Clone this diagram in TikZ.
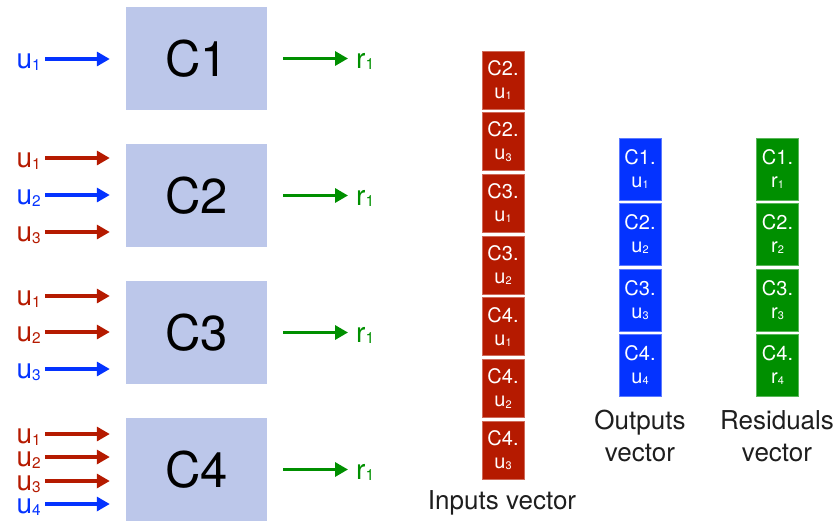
\documentclass[tikz,border=0pt]{standalone}
\usepackage{fontspec}
\setmainfont{TeX Gyre Heros}
\usepackage{graphicx}
\usetikzlibrary{arrows.meta}

\definecolor{boxfill}{HTML}{BCC7EA}
\definecolor{inblue}{HTML}{0433FF}
\definecolor{inred}{HTML}{B51A00}
\definecolor{resgreen}{HTML}{008F00}
\definecolor{captext}{HTML}{1E1E1E}

% letter with a small, slightly lowered index
\newcommand\ix[2]{#1\raisebox{-0.06em}{\scalebox{0.55}{#2}}}

\tikzset{
  ctrl/.style={fill=boxfill, minimum width=141pt, minimum height=103pt,
    inner sep=0pt, text=black, font=\fontsize{49}{60}\selectfont},
  inlab/.style={anchor=base east, inner sep=0pt, text height=15pt, text depth=1pt,
    font=\fontsize{28}{30}\selectfont},
  outlab/.style={anchor=base west, inner sep=0pt, text=resgreen,
    text height=15pt, text depth=1pt, font=\fontsize{28}{30}\selectfont},
  wire/.style={line width=3.2pt, -{Triangle[length=13pt,width=14pt]}},
  inwire/.style={wire, shorten >=16pt},
  outwire/.style={wire, resgreen, shorten <=16pt},
  cell/.style={inner sep=0pt, minimum width=42pt, text=white, align=center,
    line width=0.8pt, font=\fontsize{20}{23}\selectfont},
  incell/.style={cell, fill=inred, draw=inred!65!white, minimum height=58pt},
  outcell/.style={cell, fill=inblue, draw=inblue!65!white, minimum height=62pt},
  rescell/.style={cell, fill=resgreen, draw=resgreen!65!white, minimum height=62pt},
  caption/.style={inner sep=0pt, text=captext, align=center,
    font=\fontsize{26}{32}\selectfont}
}

\begin{document}
\begin{tikzpicture}[x=1pt, y=-1pt]
\useasboundingbox (0,0) rectangle (838,520);

% controller blocks
\node[ctrl] (C1) at (196.5, 58.5) {C1};
\node[ctrl] (C2) at (196.5,195.5) {C2};
\node[ctrl] (C3) at (196.5,332.5) {C3};
\node[ctrl] (C4) at (196.5,469.5) {C4};

% input start points
\coordinate (i11) at (45, 59);
\coordinate (i21) at (45,158);
\coordinate (i22) at (45,195);
\coordinate (i23) at (45,232);
\coordinate (i31) at (45,296);
\coordinate (i32) at (45,332);
\coordinate (i33) at (45,369);
\coordinate (i41) at (45,434);
\coordinate (i42) at (45,457);
\coordinate (i43) at (45,481);
\coordinate (i44) at (45,504);

% input labels
\node[inlab, text=inblue] (l11) at (41, 68.5) {\ix{u}{1}};
\node[inlab, text=inred]  (l21) at (41,167.5) {\ix{u}{1}};
\node[inlab, text=inblue] (l22) at (41,204.5) {\ix{u}{2}};
\node[inlab, text=inred]  (l23) at (41,241.5) {\ix{u}{3}};
\node[inlab, text=inred]  (l31) at (41,305.5) {\ix{u}{1}};
\node[inlab, text=inred]  (l32) at (41,341.5) {\ix{u}{2}};
\node[inlab, text=inblue] (l33) at (41,378.5) {\ix{u}{3}};
\node[inlab, text=inred]  (l41) at (41,443.5) {\ix{u}{1}};
\node[inlab, text=inred]  (l42) at (41,466.5) {\ix{u}{2}};
\node[inlab, text=inred]  (l43) at (41,490.5) {\ix{u}{3}};
\node[inlab, text=inblue] (l44) at (41,513.5) {\ix{u}{4}};

% input arrows
\draw[inwire, inblue] (i11) -- (i11 -| C1.west);
\draw[inwire, inred]  (i21) -- (i21 -| C2.west);
\draw[inwire, inblue] (i22) -- (i22 -| C2.west);
\draw[inwire, inred]  (i23) -- (i23 -| C2.west);
\draw[inwire, inred]  (i31) -- (i31 -| C3.west);
\draw[inwire, inred]  (i32) -- (i32 -| C3.west);
\draw[inwire, inblue] (i33) -- (i33 -| C3.west);
\draw[inwire, inred]  (i41) -- (i41 -| C4.west);
\draw[inwire, inred]  (i42) -- (i42 -| C4.west);
\draw[inwire, inred]  (i43) -- (i43 -| C4.west);
\draw[inwire, inblue] (i44) -- (i44 -| C4.west);

% residual outputs
\coordinate (r1) at (348, 58.5);
\coordinate (r2) at (348,195.5);
\coordinate (r3) at (348,332.5);
\coordinate (r4) at (348,469.5);
\draw[outwire] (C1.east) -- (r1);
\draw[outwire] (C2.east) -- (r2);
\draw[outwire] (C3.east) -- (r3);
\draw[outwire] (C4.east) -- (r4);
\node[outlab] (rl1) at (356, 68) {\ix{r}{1}};
\node[outlab] (rl2) at (356,205) {\ix{r}{1}};
\node[outlab] (rl3) at (356,342) {\ix{r}{1}};
\node[outlab] (rl4) at (356,479) {\ix{r}{1}};

% inputs vector
\node[incell] (v1) at (503, 80.0) {C2.\\\ix{u}{1}};
\node[incell] (v2) at (503,141.7) {C2.\\\ix{u}{3}};
\node[incell] (v3) at (503,203.4) {C3.\\\ix{u}{1}};
\node[incell] (v4) at (503,265.1) {C3.\\\ix{u}{2}};
\node[incell] (v5) at (503,326.8) {C4.\\\ix{u}{1}};
\node[incell] (v6) at (503,388.5) {C4.\\\ix{u}{2}};
\node[incell] (v7) at (503,450.2) {C4.\\\ix{u}{3}};
\node[caption] (tin) at (502,503) {Inputs vector};

% outputs vector
\node[outcell] (o1) at (640,169) {C1.\\\ix{u}{1}};
\node[outcell] (o2) at (640,234) {C2.\\\ix{u}{2}};
\node[outcell] (o3) at (640,300) {C3.\\\ix{u}{3}};
\node[outcell] (o4) at (640,365) {C4.\\\ix{u}{4}};
\node[caption] (tout) at (640,436) {Outputs\\vector};

% residuals vector
\node[rescell] (q1) at (777.5,169) {C1.\\\ix{r}{1}};
\node[rescell] (q2) at (777.5,234) {C2.\\\ix{r}{2}};
\node[rescell] (q3) at (777.5,300) {C3.\\\ix{r}{3}};
\node[rescell] (q4) at (777.5,365) {C4.\\\ix{r}{4}};
\node[caption] (tres) at (777,436) {Residuals\\vector};
\end{tikzpicture}
\end{document}
